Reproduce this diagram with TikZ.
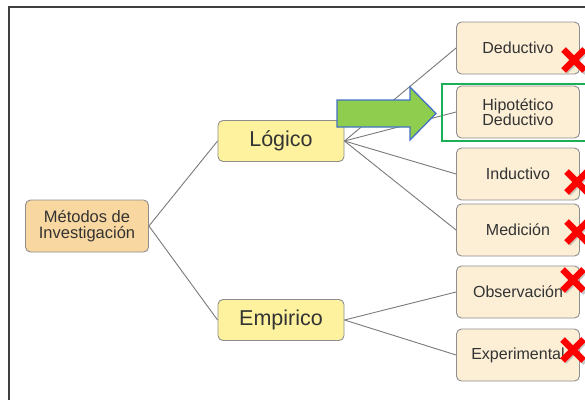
\documentclass[tikz,border=0pt]{standalone}
\usepackage{fontspec}
\setmainfont{Liberation Sans}

\definecolor{leaffill}{HTML}{FCEFD6}
\definecolor{rootfill}{HTML}{F9D7A0}
\definecolor{branchfill}{HTML}{FEF29E}
\definecolor{boxline}{HTML}{8E8E8E}
\definecolor{linkgray}{HTML}{7A7A7A}
\definecolor{txt}{HTML}{333333}
\definecolor{arrowgreen}{HTML}{8FCD4F}
\definecolor{arrowblue}{HTML}{4472C4}
\definecolor{framegreen}{HTML}{1DAF55}
\definecolor{crossred}{HTML}{FF0000}

\tikzset{
	base/.style={draw=boxline, line width=0.9pt, rounded corners=5pt, text=txt, align=center, inner sep=0pt},
	leaf/.style={base, fill=leaffill, minimum width=123pt, minimum height=52pt,
		font=\fontsize{16}{15.5}\selectfont},
	root/.style={base, fill=rootfill, minimum width=123pt, minimum height=52pt,
		font=\fontsize{16.5}{16.5}\selectfont},
	branch/.style={base, fill=branchfill, minimum width=126pt, minimum height=41pt,
		font=\fontsize{21.5}{22}\selectfont},
	link/.style={draw=linkgray, line width=0.9pt},
	nope/.pic={
		\draw[black!35, opacity=.6, line width=6.5pt] (-9,-9) ++(1.5,1.5) -- ++(20,20) (-9,11.5) -- (12,-9.5);
		\draw[crossred, line width=6.5pt] (-10.5,-10.5) -- (10.5,10.5) (-10.5,10.5) -- (10.5,-10.5);
	}
}

\begin{document}
\begin{tikzpicture}[x=1pt, y=-1pt]
	\def\leafx{518} % Centre of the right column on the x-axis
	\def\branchx{281} % Centre of the middle column on the x-axis

	\useasboundingbox (0,0) rectangle (585,399);
	\clip (0,0) rectangle (585,399);
	\fill[white] (0,0) rectangle (585,399);

	% outer frame, runs off the page on the right and at the bottom
	\draw[black!75, line width=1.2pt] (9,7) rectangle (620,430);

	% root and branches
	\node[root] (metodos) at (87,226) {Métodos de\\Investigación};
	\node[branch] (logico) at (\branchx,141) {Lógico};
	\node[branch] (empirico) at (\branchx,320) {Empirico};

	% leaves
	\node[leaf] (deductivo) at (\leafx,48) {Deductivo};
	\node[leaf] (hipotetico) at (\leafx,112) {Hipotético\\Deductivo};
	\node[leaf] (inductivo) at (\leafx,174) {Inductivo};
	\node[leaf] (medicion) at (\leafx,230) {Medición};
	\node[leaf] (observacion) at (\leafx,292) {Observación};
	\node[leaf] (experimental) at (\leafx,355) {Experimental};

	% connectors
	\draw[link] (metodos.east) -- (logico.west);
	\draw[link] (metodos.east) -- (empirico.west);
	\foreach \n in {deductivo, hipotetico, inductivo, medicion} {
		\draw[link] (logico.east) -- (\n.west);
	}
	\foreach \n in {observacion, experimental} {
		\draw[link] (empirico.east) -- (\n.west);
	}

	% highlight of the chosen method
	\draw[framegreen, line width=1.5pt] (442,84) rectangle (600,141);
	\draw[arrowblue, fill=arrowgreen, line width=1.3pt, line join=miter]
		(337,100) -- (410,100) -- (410,87) -- (436,113.5) -- (410,140) -- (410,127) -- (337,127) -- cycle;

	% rejected methods
	\pic at (574,60) {nope};
	\pic at (577,182) {nope};
	\pic at (577,232) {nope};
	\pic at (573,280) {nope};
	\pic at (573,350) {nope};
\end{tikzpicture}
\end{document}
